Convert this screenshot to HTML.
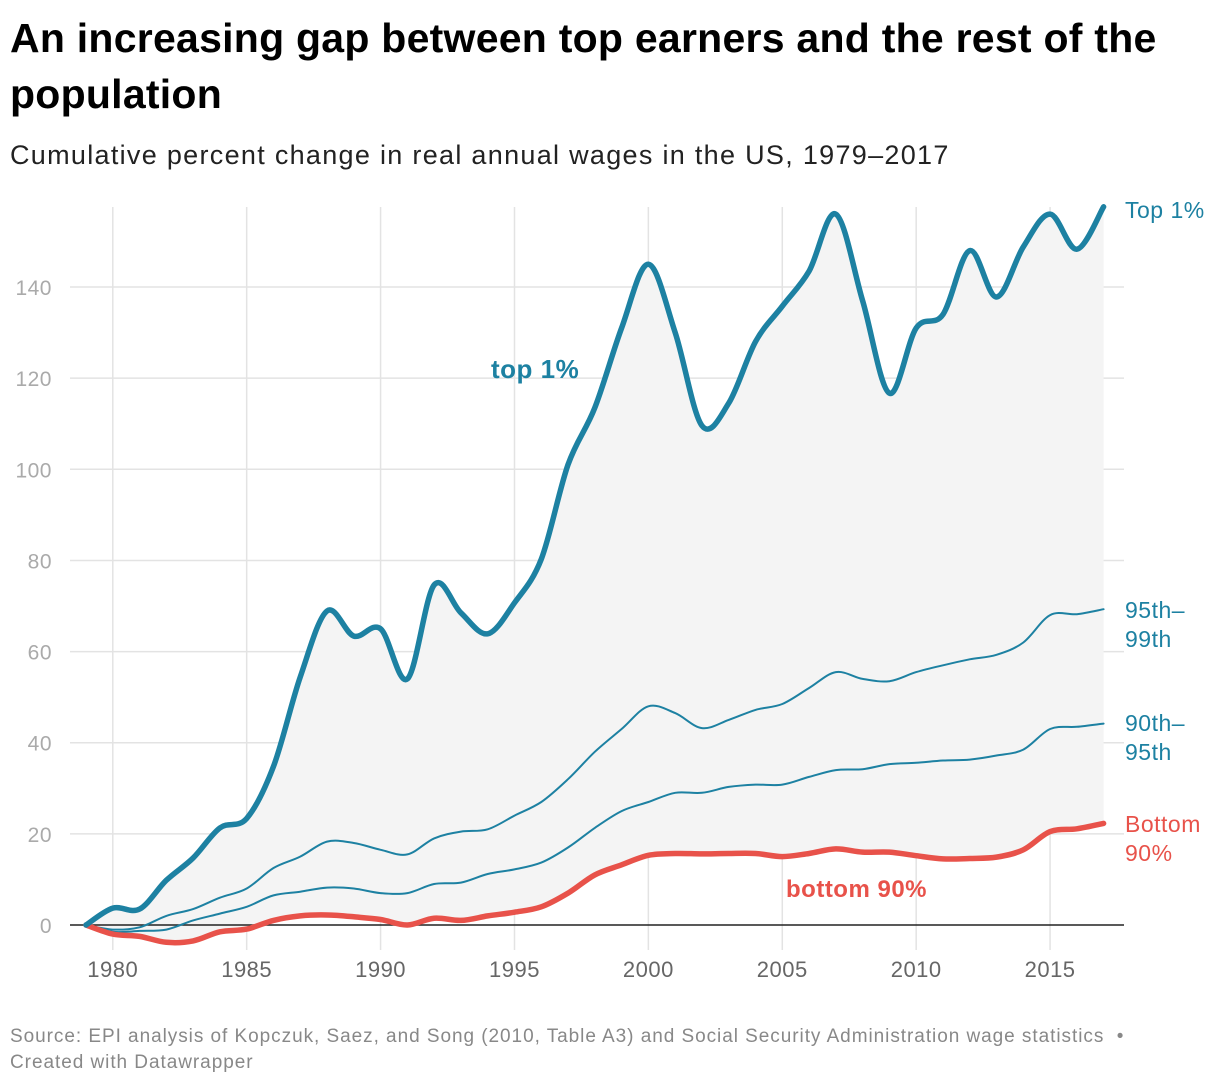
<!DOCTYPE html>
<html><head><meta charset="utf-8"><style>
body{margin:0;background:#fff;font-family:"Liberation Sans",sans-serif;}
#wrap{position:relative;width:1220px;height:1086px;overflow:hidden;}
h1{position:absolute;left:10px;top:10px;margin:0;font-size:41px;line-height:56px;font-weight:bold;color:#000;width:1200px;letter-spacing:0.25px;}
.sub{position:absolute;left:10px;top:140px;font-size:27px;color:#222;letter-spacing:1.3px;}
.foot{position:absolute;left:10px;top:1024px;font-size:19px;color:#888;line-height:26px;letter-spacing:0.95px;}
</style></head><body>
<div id="wrap">
<h1>An increasing gap between top earners and the rest of the population</h1>
<div class="sub">Cumulative percent change in real annual wages in the US, 1979–2017</div>
<svg id="chart" width="1220" height="1086" style="position:absolute;left:0;top:0"></svg>
<div class="foot">Source: EPI analysis of Kopczuk, Saez, and Song (2010, Table A3) and Social Security Administration wage statistics &nbsp;•<br>Created with Datawrapper</div>
</div>
<script>
const years=[1979,1980,1981,1982,1983,1984,1985,1986,1987,1988,1989,1990,1991,1992,1993,1994,1995,1996,1997,1998,1999,2000,2001,2002,2003,2004,2005,2006,2007,2008,2009,2010,2011,2012,2013,2014,2015,2016,2017];
const top1=[0,3.7,3.5,9.8,14.7,21.3,23.4,34.8,54.4,68.9,63.4,65,54,74.6,68.5,63.9,70.7,80.3,101,113.5,131,145,130,109.6,114.5,128,135.8,143.5,156,137,116.7,131,134,148,137.8,148.8,156,148.3,157.6];
const p95_99=[0,-1,-0.5,2,3.5,6,8,12.5,15,18.3,18,16.5,15.5,19,20.5,21,24,27,32,38,43,48,46.5,43.2,45,47.2,48.5,52,55.5,54,53.5,55.5,57,58.3,59.3,62,68,68.2,69.3];
const p90_95=[0,-1.5,-1.3,-1,1,2.5,4,6.5,7.3,8.2,8,7,7,9,9.3,11.2,12.2,13.7,17,21.3,25,27,29,29,30.3,30.8,30.8,32.5,34,34.2,35.3,35.6,36.1,36.3,37.2,38.5,43,43.5,44.2];
const bottom90=[0,-2,-2.5,-3.8,-3.5,-1.5,-0.9,1,2,2.2,1.8,1.2,0,1.5,1,2,2.8,4,7,11,13.2,15.3,15.7,15.6,15.7,15.7,15,15.7,16.7,16,16,15.2,14.5,14.6,14.9,16.5,20.5,21.1,22.3];
const yTicks=[0,20,40,60,80,100,120,140];
const xTicks=[1980,1985,1990,1995,2000,2005,2010,2015];

const svg=document.getElementById('chart');
const NS='http://www.w3.org/2000/svg';
const X=y=>86+(y-1979)*26.78;
const Y=v=>925-v*4.557;
function mk(t,a){const e=document.createElementNS(NS,t);for(const k in a)e.setAttribute(k,a[k]);svg.appendChild(e);return e;}
function spline(vals,rev){
  let pts=years.map((y,i)=>[X(y),Y(vals[i])]);
  if(rev)pts=pts.reverse();
  let d=(rev?'L':'M')+pts[0][0].toFixed(1)+','+pts[0][1].toFixed(1);
  for(let i=0;i<pts.length-1;i++){
    const p0=pts[Math.max(i-1,0)],p1=pts[i],p2=pts[i+1],p3=pts[Math.min(i+2,pts.length-1)];
    const c1=[p1[0]+(p2[0]-p0[0])/6,p1[1]+(p2[1]-p0[1])/6];
    const c2=[p2[0]-(p3[0]-p1[0])/6,p2[1]-(p3[1]-p1[1])/6];
    d+=`C${c1[0].toFixed(1)},${c1[1].toFixed(1)} ${c2[0].toFixed(1)},${c2[1].toFixed(1)} ${p2[0].toFixed(1)},${p2[1].toFixed(1)}`;
  }
  return d;
}
yTicks.forEach(v=>{
  if(v!==0){const g=mk('line',{x1:70,x2:1124,y1:Y(v),y2:Y(v),stroke:'#e3e3e3','stroke-width':1.5});
  
  }
  const t=mk('text',{x:52,y:Y(v)+8,'text-anchor':'end','font-size':21,fill:'#aaa','letter-spacing':'0.5'});
  t.textContent=v;
  
  
});
xTicks.forEach(v=>{
  const g=mk('line',{x1:X(v),x2:X(v),y1:207,y2:950,stroke:'#e3e3e3','stroke-width':1.5});
  
  
  const t=mk('text',{x:X(v),y:977,'text-anchor':'middle','font-size':22,fill:'#666','letter-spacing':'0.5'});
  t.textContent=v;
  
  
});
const area=mk('path',{d:spline(top1,false)+spline(bottom90,true)+'Z',fill:'#f4f4f4'});


const zl=mk('line',{x1:70,x2:1124,y1:Y(0),y2:Y(0),stroke:'#222','stroke-width':1.5});


const series=[[p90_95,'#1d81a2',2,'line-90th-95th'],[p95_99,'#1d81a2',2,'line-95th-99th'],[bottom90,'#e8524a',5.5,'line-bottom-90'],[top1,'#1d81a2',5.5,'line-top-1']];
series.forEach(s=>{
  const p=mk('path',{d:spline(s[0],false),fill:'none',stroke:s[1],'stroke-width':s[2],'stroke-linejoin':'round','stroke-linecap':'round'});
  
  
});
function lab(x,y,txt,col,w,name,sz){const t=mk('text',{x:x,y:y,'font-size':sz||23,fill:col,'font-weight':w||'normal','letter-spacing':'0.5'});t.textContent=txt;
  
  return t;}
lab(1125,218,'Top 1%','#1d81a2','normal','label-top-1');
lab(1125,618,'95th–','#1d81a2','normal','label-95th-99th');
lab(1125,647,'99th','#1d81a2','normal','label-95th-99th-2');
lab(1125,731,'90th–','#1d81a2','normal','label-90th-95th');
lab(1125,760,'95th','#1d81a2','normal','label-90th-95th-2');
lab(1125,832,'Bottom','#e8524a','normal','label-bottom-90');
lab(1125,861,'90%','#e8524a','normal','label-bottom-90-2');
lab(491,378,'top 1%','#1d81a2','bold','annotation-top-1',26);
lab(786,897,'bottom 90%','#e8524a','bold','annotation-bottom-90',24);
</script>
</body></html>
